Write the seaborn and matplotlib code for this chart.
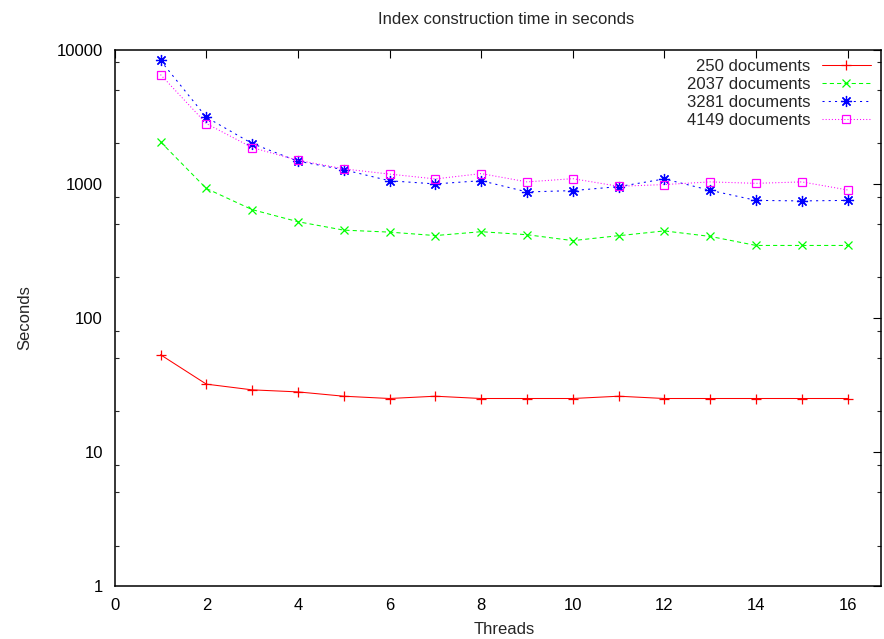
import matplotlib
matplotlib.use("Agg")
import matplotlib.pyplot as plt
from matplotlib.ticker import FixedLocator, FixedFormatter, NullFormatter
import seaborn as sns
import numpy as np

# Threads used for each run
threads = list(range(1, 17))

# Construction time (seconds) per collection size
docs_250 = [53, 32, 29, 28, 26, 25, 26, 25, 25, 25, 26, 25, 25, 25, 25, 25]
docs_2037 = [2050, 920, 640, 520, 450, 435, 410, 438, 416, 376, 409, 444, 404, 346, 346, 346]
docs_3281 = [8280, 3125, 1990, 1470, 1270, 1050, 995, 1052, 867, 887, 950, 1084, 891, 750, 743, 750]
docs_4149 = [6500, 2805, 1857, 1493, 1288, 1178, 1084, 1188, 1030, 1089, 955, 984, 1030, 1005, 1030, 897]

labels = ["250 documents", "2037 documents", "3281 documents", "4149 documents"]
x_ticks = [0, 2, 4, 6, 8, 10, 12, 14, 16]
y_ticks = [1, 10, 100, 1000, 10000]
y_tick_labels = ["1", "10", "100", "1000", "10000"]

sns.set_style("white")
plt.rcParams["font.family"] = ["Liberation Sans", "DejaVu Sans"]
plt.rcParams["font.size"] = 12

W, H = 884, 639
fig = plt.figure(figsize=(W / 100, H / 100), dpi=100)
left, right, top, bottom = 114.7, 881.0, 49.5, 586.0
ax = fig.add_axes([left / W, 1 - bottom / H, (right - left) / W, (bottom - top) / H])

series = [
    (docs_250, "#ff0000", "+", "-", 7.0),
    (docs_2037, "#00ff00", "x", (0, (4, 3)), 6.0),
    (docs_3281, "#0000ff", (8, 2, 0), (0, (2, 4)), 8.0),
    (docs_4149, "#ff00ff", "s", (0, (1, 2)), 6.0),
]

for (vals, color, marker, ls, ms), lab in zip(series, labels):
    sns.lineplot(
        x=threads, y=vals, ax=ax, color=color, linestyle=ls, linewidth=0.75,
        marker=marker, markersize=ms, markeredgewidth=0.9,
        markerfacecolor="none", markeredgecolor=color, label=lab,
    )

ax.set_yscale("log")
ax.set_xlim(0, (right - left) / 45.81)
ax.set_ylim(1, 10000)

ax.xaxis.set_major_locator(FixedLocator(x_ticks))
ax.yaxis.set_major_locator(FixedLocator(y_ticks))
ax.yaxis.set_major_formatter(FixedFormatter(y_tick_labels))
minor = [m * 10 ** e for e in range(0, 4) for m in (2, 5, 8)]
ax.yaxis.set_minor_locator(FixedLocator(minor))
ax.yaxis.set_minor_formatter(NullFormatter())

ax.tick_params(axis="both", which="major", direction="in", length=6, width=0.8,
               top=True, right=True, pad=8.6, labelsize=12, colors="black")
ax.tick_params(axis="y", which="minor", direction="in", length=3, width=0.8,
               left=True, right=True)
ax.tick_params(axis="x", which="minor", bottom=False, top=False)

for sp in ax.spines.values():
    sp.set_visible(True)
    sp.set_color("black")
    sp.set_linewidth(1.1)

ax.set_xlabel("")
ax.set_ylabel("")
fig.text(504 / W, 1 - 630 / H, "Threads", ha="center", va="center", fontsize=12)
fig.text(25 / W, 1 - 318 / H, "Seconds", ha="center", va="center", rotation=90, fontsize=12)
fig.text(506 / W, 1 - 20 / H, "Index construction time in seconds",
         ha="center", va="center", fontsize=12)

leg = ax.legend(loc="upper right", bbox_to_anchor=(0.987, 0.982), frameon=False,
                markerfirst=False, handlelength=2.95, handletextpad=0.7,
                labelspacing=0.17, borderpad=0, borderaxespad=0, numpoints=1,
                fontsize=12)

fig.savefig("out.png", dpi=100)
